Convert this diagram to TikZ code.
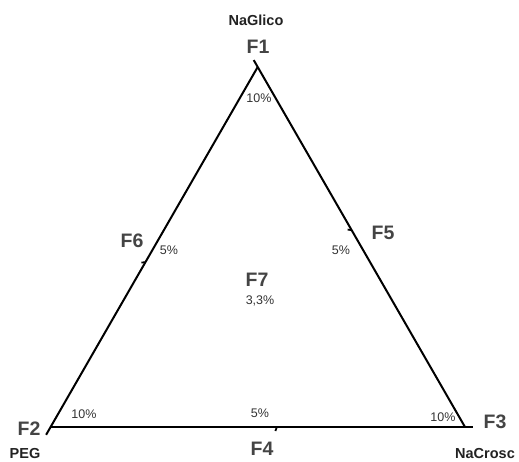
\documentclass[tikz,border=0pt]{standalone}
\usepackage{fontspec}
\setmainfont{Liberation Sans}
\usetikzlibrary{calc}

\begin{document}
\begin{tikzpicture}[x=1pt, y=-1pt, every node/.style={inner sep=0pt, anchor=base}]
  \tikzset{side/.style={draw=black, line width=2.0pt}}
  \tikzset{tick/.style={draw=black, line width=1.8pt}}
  \tikzset{corner/.style={font=\bfseries\fontsize{19.5}{22}\selectfont, text={rgb,255:red,68;green,68;blue,68}}}
  \tikzset{comp/.style={font=\bfseries\fontsize{14.5}{17}\selectfont, text={rgb,255:red,34;green,34;blue,34}}}
  \tikzset{pct/.style={font=\fontsize{12.5}{15}\selectfont, text={rgb,255:red,51;green,51;blue,51}}}
  \useasboundingbox (0,0) rectangle (519,461);
  % vertices
  \coordinate (vA) at (257.7,67.0);
  \coordinate (vB) at (50.6,427.0);
  \coordinate (vC) at (465.0,427.0);
  % sides
  \draw[side, shorten <=-9pt] (vB) -- (vA);
  \draw[side, shorten <=-8pt] (vA) -- (vC);
  \draw[side, shorten >=-8pt] (vB) -- (vC);
  % marks on the sides
  \coordinate (mAB) at ($(vB)!0.458!(vA)$);
  \coordinate (mAC) at ($(vA)!0.453!(vC)$);
  \coordinate (mBC) at ($(vB)!0.546!(vC)$);
  \draw[tick] (mAB) -- ++(-4,0.5);
  \draw[tick] (mAC) -- ++(-4,-0.5);
  \draw[tick] (mBC) -- ++(-1.5,4);
  % labels
  \node[comp] (naglico) at (256,25) {NaGlico};
  \node[corner] (f1) at (258,53) {F1};
  \node[corner] (f2) at (29,435) {F2};
  \node[comp] (peg) at (25,458) {PEG};
  \node[corner] (f3) at (495,428) {F3};
  \node[comp] (nacrosc) at (485,458) {NaCrosc};
  \node[corner] (f4) at (262,455) {F4};
  \node[corner] (f5) at (383,239) {F5};
  \node[corner] (f6) at (132,247) {F6};
  \node[corner] (f7) at (257,286) {F7};
  \node[pct] (p7) at (260,304) {3,3\%};
  \node[pct] (pA) at (259,102) {10\%};
  \node[pct] (pB) at (84,418) {10\%};
  \node[pct] (pC) at (443,421) {10\%};
  \node[pct] (p4) at (260,417) {5\%};
  \node[pct] (p5) at (341,254) {5\%};
  \node[pct] (p6) at (169,254) {5\%};
\end{tikzpicture}
\end{document}
